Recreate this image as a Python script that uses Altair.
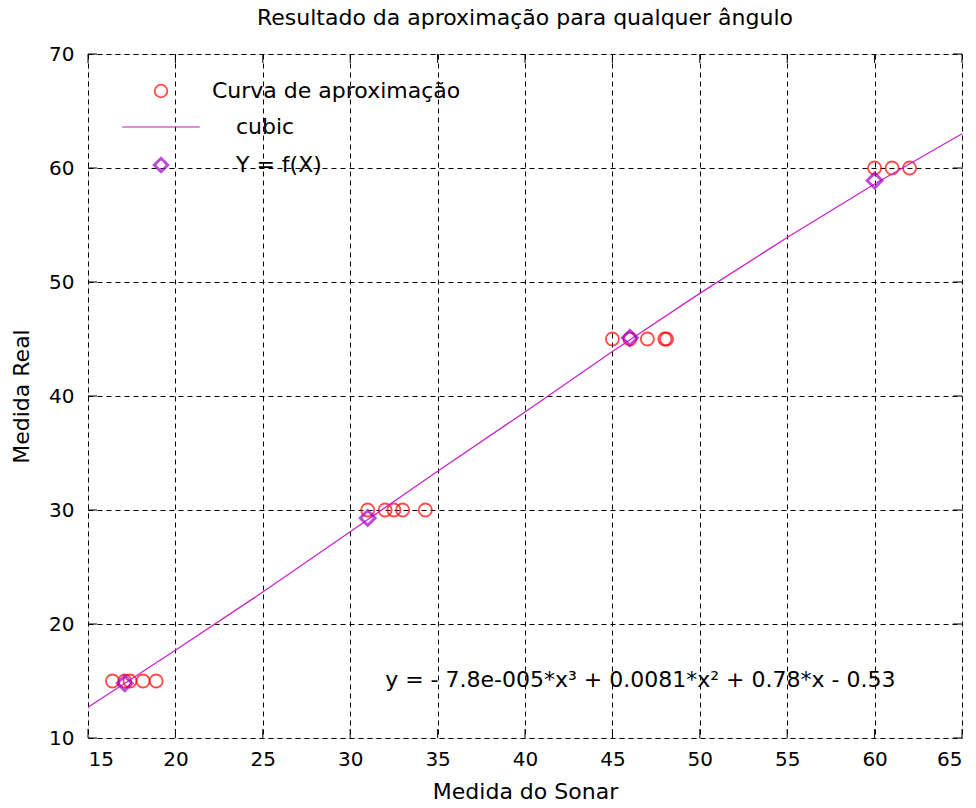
import altair as alt
import pandas as pd

# ---- data ----
circ_x = [16.4, 17.1, 17.4, 18.15, 18.9,
          31.0, 32.0, 32.5, 33.0, 34.3,
          45.0, 46.0, 47.0, 48.0, 48.1,
          60.0, 61.0, 62.0]
circ_y = [15, 15, 15, 15, 15,
          30, 30, 30, 30, 30,
          45, 45, 45, 45, 45,
          60, 60, 60]

fx_x = [17.1, 31.0, 46.0, 60.0]
fx_y = [14.8, 29.3, 45.1, 58.9]

cubic_x = [15, 20, 25, 30, 35, 40, 45, 50, 55, 60, 65]
cubic_y = [12.7, 17.7, 22.8, 28.1, 33.4, 38.6, 43.9, 49.0, 53.9, 58.6, 63.0]

x_ticks = [15, 20, 25, 30, 35, 40, 45, 50, 55, 60, 65]
y_ticks = [10, 20, 30, 40, 50, 60, 70]

series = ["Curva de aproximação", "cubic", "Y = f(X)"]
colors = ["#ff0000", "#cc22cc", "#a000c8"]
shapes = ["circle", "stroke", "diamond"]

eq_text = ["y = - 7.8e-005*x³ + 0.0081*x² + 0.78*x - 0.53"]
eq_x = [32.0]
eq_y = [15.1]

W, H = 874, 684
FONT = "DejaVu Sans"

circ_df = pd.DataFrame({"x": circ_x, "y": circ_y, "s": series[0]})
cub_df = pd.DataFrame({"x": cubic_x, "y": cubic_y, "s": series[1]})
fx_df = pd.DataFrame({"x": fx_x, "y": fx_y, "s": series[2]})
eq_df = pd.DataFrame({"x": eq_x, "y": eq_y, "t": eq_text})
xt_df = pd.DataFrame({"v": x_ticks})
yt_df = pd.DataFrame({"v": y_ticks})

xs = alt.Scale(domain=[15, 65], nice=False, zero=False)
ys = alt.Scale(domain=[10, 70], nice=False, zero=False)

x_axis = alt.Axis(values=x_ticks, title="Medida do Sonar", grid=True, gridDash=[5, 4],
                  gridColor="black", gridOpacity=1, domain=False, ticks=False,
                  labelFont=FONT, labelFontSize=20, labelColor="black", labelPadding=11,
                  titleFont=FONT, titleFontSize=22, titleFontWeight="normal",
                  titleColor="black", titlePadding=12)
y_axis = alt.Axis(values=y_ticks, title="Medida Real", grid=True, gridDash=[5, 4],
                  gridColor="black", gridOpacity=1, domain=False, ticks=False,
                  labelFont=FONT, labelFontSize=20, labelColor="black", labelPadding=14,
                  titleFont=FONT, titleFontSize=22, titleFontWeight="normal",
                  titleColor="black", titlePadding=15)

color_scale = alt.Scale(domain=series, range=colors)
shape_scale = alt.Scale(domain=series, range=shapes)

legend = alt.Legend(
    title=None, orient="none", legendX=62, legendY=26, padding=0,
    labelFont=FONT, labelFontSize=22, labelColor="black", labelLimit=500,
    labelOffset=alt.ExprRef(expr="datum.value === 'Curva de aproximação' ? 40 : 64"),
    rowPadding=14,
    symbolSize=alt.ExprRef(expr="datum.value === 'cubic' ? 6000 : (datum.value === 'Y = f(X)' ? 180 : 160)"),
    symbolStrokeWidth=alt.ExprRef(expr="datum.value === 'Y = f(X)' ? 3 : (datum.value === 'cubic' ? 1.3 : 1.8)"),
    symbolFillColor="transparent",
)

base_x = alt.X("x:Q", scale=xs, axis=x_axis)
base_y = alt.Y("y:Q", scale=ys, axis=y_axis)

circles = alt.Chart(circ_df).mark_point(filled=False, size=170, strokeWidth=1.8).encode(
    x=base_x, y=base_y,
    color=alt.Color("s:N", scale=color_scale, legend=legend),
    shape=alt.Shape("s:N", scale=shape_scale, legend=legend),
)

line = alt.Chart(cub_df).mark_line(strokeWidth=1.3).encode(
    x="x:Q", y="y:Q",
    color=alt.Color("s:N", scale=color_scale, legend=legend),
)

diamonds = alt.Chart(fx_df).mark_point(filled=False, size=220, strokeWidth=3).encode(
    x="x:Q", y="y:Q",
    color=alt.Color("s:N", scale=color_scale, legend=legend),
    shape=alt.Shape("s:N", scale=shape_scale, legend=legend),
)

eq = alt.Chart(eq_df).mark_text(align="left", baseline="middle", font=FONT, fontSize=22,
                                color="black").encode(x="x:Q", y="y:Q", text="t:N")

tick_len = 9
xt_bottom = alt.Chart(xt_df).mark_rule(color="black", strokeWidth=1).encode(
    x=alt.X("v:Q", scale=xs), y=alt.value(H), y2=alt.value(H - tick_len))
xt_top = alt.Chart(xt_df).mark_rule(color="black", strokeWidth=1).encode(
    x=alt.X("v:Q", scale=xs), y=alt.value(0), y2=alt.value(tick_len))
yt_left = alt.Chart(yt_df).mark_rule(color="black", strokeWidth=1).encode(
    y=alt.Y("v:Q", scale=ys), x=alt.value(0), x2=alt.value(tick_len))
yt_right = alt.Chart(yt_df).mark_rule(color="black", strokeWidth=1).encode(
    y=alt.Y("v:Q", scale=ys), x=alt.value(W), x2=alt.value(W - tick_len))

chart = alt.layer(
    xt_bottom, xt_top, yt_left, yt_right, circles, line, diamonds, eq
).properties(
    width=W, height=H,
    title=alt.TitleParams("Resultado da aproximação para qualquer ângulo", font=FONT,
                          fontSize=22, fontWeight="normal", color="black", offset=14),
    autosize="none",
    padding={"left": 88, "top": 54, "right": 14, "bottom": 70},
).configure_view(
    stroke="black", strokeWidth=1.2
).configure(background="white")

chart.save("out.html", embed_options={"renderer": "svg", "actions": False})
